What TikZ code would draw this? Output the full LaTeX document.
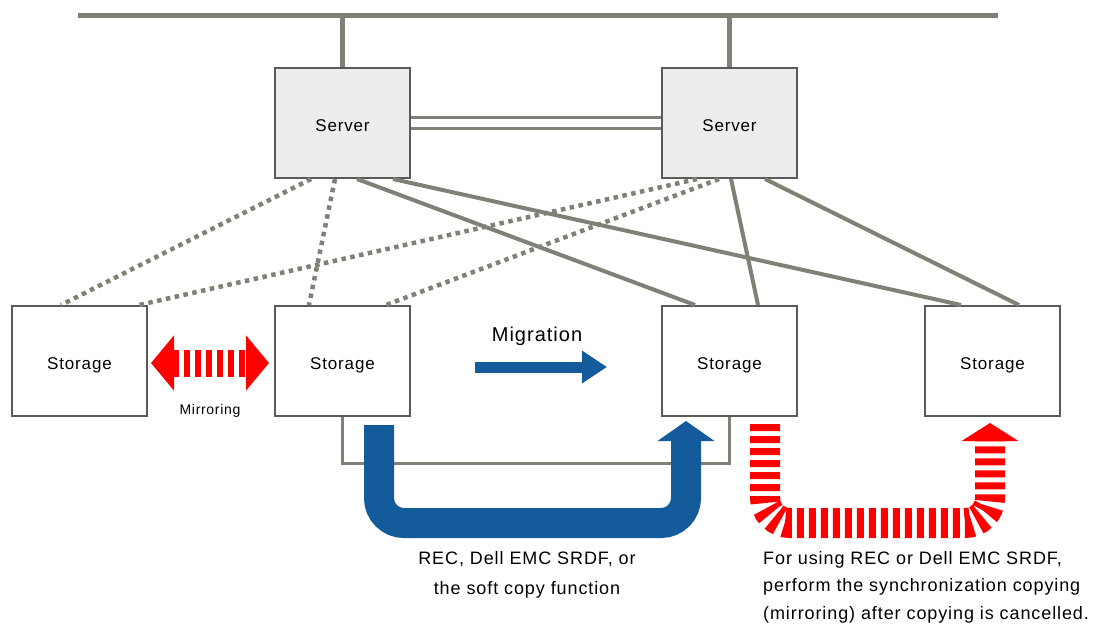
\documentclass[tikz,border=0pt]{standalone}
\usepackage{fontspec}
\setmainfont{Liberation Sans}[LetterSpace=5]
\usetikzlibrary{arrows.meta,positioning}
\definecolor{linegray}{RGB}{128,128,118}
\definecolor{boxgray}{RGB}{90,90,90}
\definecolor{srvfill}{RGB}{237,237,237}
\definecolor{copyblue}{RGB}{20,91,155}
\definecolor{syncred}{RGB}{255,0,0}
\tikzset{
  unitbox/.style={draw=boxgray, line width=2pt, minimum width=135pt, minimum height=110pt, text height=17pt, text depth=0pt, font=\fontsize{17}{20}\selectfont},
  serverbox/.style={unitbox, fill=srvfill},
  storagebox/.style={unitbox, fill=white},
  bus/.style={draw=linegray, line width=5pt},
  link/.style={draw=linegray, line width=4pt},
  spare/.style={draw=linegray, line width=4.5pt, dash pattern=on 4.5pt off 4.5pt},
  cable/.style={draw=linegray, line width=3pt},
  copyarrow/.style={draw=copyblue, line width=30pt, rounded corners=25pt, -{Triangle[length=20pt 0 0, width=56pt 0 0]}},
  syncarrow/.style={draw=syncred, line width=30pt, rounded corners=25pt, dash pattern=on 7pt off 5pt, -{Triangle[length=18pt 0 0, width=56pt 0 0]}},
  mirrorarrow/.style={draw=syncred, line width=27pt, dash pattern=on 6pt off 5pt, {Triangle[length=23pt 0 0, width=54pt 0 0]}-{Triangle[length=23pt 0 0, width=54pt 0 0]}},
  migarrow/.style={draw=copyblue, line width=11pt, -{Triangle[length=25pt 0 0, width=31pt 0 0]}},
  note/.style={font=\fontsize{18}{30}\selectfont, inner sep=0pt}
}
\begin{document}
\begin{tikzpicture}[x=1pt, y=-1pt, node distance=126pt]
  \useasboundingbox (0,0) rectangle (1099,625);

  % storages and servers
  \node[storagebox] (st1) at (79.5,361) {Storage};
  \node[storagebox, right=of st1] (st2) {Storage};
  \node[storagebox, right=250pt of st2] (st3) {Storage};
  \node[storagebox, right=of st3] (st4) {Storage};
  \node[serverbox, above=of st2] (srvL) {Server};
  \node[serverbox, above=of st3] (srvR) {Server};

  % LAN
  \coordinate (busL) at (78,15);
  \coordinate (busR) at (998,15);
  \draw[bus] (busL) -- (busR);
  \draw[bus] (srvL.north) -- (srvL.north |- busL);
  \draw[bus] (srvR.north) -- (srvR.north |- busR);
  \draw[cable, double=white, double distance=8pt] (srvL) -- (srvR);

  % paths to storages
  \draw[spare] ([xshift=-31.5pt]srvL.south) -- ([xshift=-18.5pt]st1.north);
  \draw[spare] ([xshift=-7.5pt]srvL.south) -- ([xshift=-33.5pt]st2.north);
  \draw[link] ([xshift=14.5pt]srvL.south) -- ([xshift=-34.5pt]st3.north);
  \draw[link] ([xshift=50.5pt]srvL.south) -- ([xshift=-31.5pt]st4.north);
  \draw[spare] ([xshift=-32.5pt]srvR.south) -- ([xshift=59.5pt]st1.north);
  \draw[spare] ([xshift=-10.5pt]srvR.south) -- ([xshift=43.5pt]st2.north);
  \draw[link] ([xshift=1.5pt]srvR.south) -- ([xshift=28.5pt]st3.north);
  \draw[link] ([xshift=35.5pt]srvR.south) -- ([xshift=26.5pt]st4.north);

  % copy line
  \draw[cable] (st2.south) -- ++(0,46) -| (st3.south);

  % arrows
  \draw[mirrorarrow] ([xshift=3pt,yshift=-2pt]st1.east) -- node[below=25pt, font=\fontsize{14}{16}\selectfont] (mirtxt) {Mirroring} ([xshift=-5pt,yshift=-2pt]st2.west);
  \draw[migarrow] ([xshift=64pt,yshift=-6pt]st2.east) -- node[above=13pt, xshift=-4pt, font=\fontsize{20}{22}\selectfont] (migtxt) {Migration} ([xshift=-54pt,yshift=-6pt]st3.west);
  \draw[copyarrow] ([xshift=36.5pt,yshift=-8pt]st2.south) -- ++(0,98) -| ([xshift=-43.5pt,yshift=-4pt]st3.south);
  \draw[syncarrow] ([xshift=35.5pt,yshift=-7pt]st3.south) -- ++(0,99) -| ([xshift=-2.5pt,yshift=-6pt]st4.south);

  \node[note, align=center, anchor=north] (copytxt) at (527,551) {REC, Dell EMC SRDF, or\\the soft copy function};
  \node[note, align=left, anchor=north west, font=\fontsize{18}{27.5}\selectfont] (synctxt) at (763,551) {For using REC or Dell EMC SRDF,\\perform the synchronization copying\\(mirroring) after copying is cancelled.};
\end{tikzpicture}
\end{document}
